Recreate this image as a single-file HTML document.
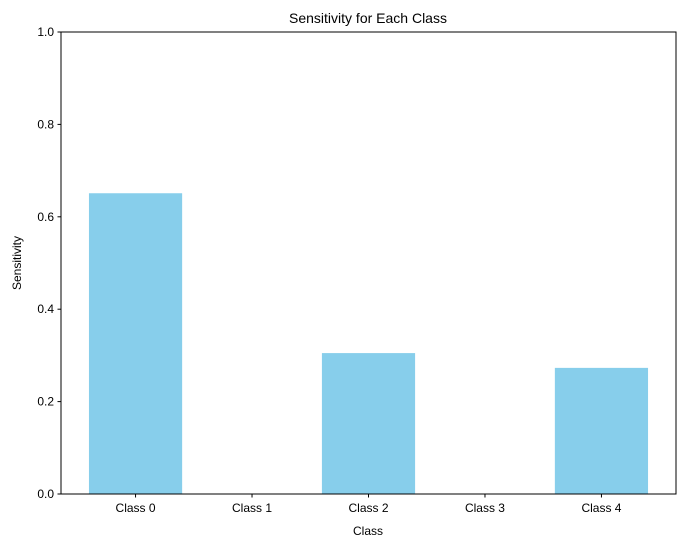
<!DOCTYPE html>
<html><head><meta charset="utf-8"><style>
body{margin:0;background:#fff;}
svg{display:block;font-family:"Liberation Sans","DejaVu Sans",sans-serif;}
</style></head><body>
<svg id="chart" width="691" height="547" xmlns="http://www.w3.org/2000/svg">
<rect width="691" height="547" fill="#fff"/>
<text x="368" y="23" text-anchor="middle" font-size="14">Sensitivity for Each Class</text>
<g id="bars"></g>
<g id="axes"></g>
<text x="368" y="535" text-anchor="middle" font-size="12">Class</text>
<text transform="translate(21,263) rotate(-90)" text-anchor="middle" font-size="12">Sensitivity</text>
</svg>
<script>
const categories=["Class 0","Class 1","Class 2","Class 3","Class 4"];
const values=[0.651,0,0.305,0,0.273];
const yTicks=[0,0.2,0.4,0.6,0.8,1.0];
const yTickLabels=["0.0","0.2","0.4","0.6","0.8","1.0"];
const NS="http://www.w3.org/2000/svg";
const L=61,R=676,T=32,B=494;
const xMin=-0.64,xMax=categories.length-1+0.64;
function xs(i){return L+(i-xMin)/(xMax-xMin)*(R-L);}
function ys(v){return B-v*(B-T);}
const bw=0.8*(R-L)/(xMax-xMin);
function mk(tag,attrs,parent){const e=document.createElementNS(NS,tag);for(const k in attrs)e.setAttribute(k,attrs[k]);parent.appendChild(e);return e;}
const bars=document.getElementById('bars'),axes=document.getElementById('axes');
values.forEach((v,i)=>{
  const r=mk('rect',{x:xs(i)-bw/2,y:ys(v),width:bw,height:ys(0)-ys(v),fill:'#87ceeb'},bars);
  
  
});
const frame=mk('rect',{x:L,y:T,width:R-L,height:B-T,fill:'none',stroke:'#000','stroke-width':1},axes);


yTicks.forEach((t,i)=>{
  const y=ys(t);
  const tk=mk('line',{x1:L-3.5,x2:L,y1:y,y2:y,stroke:'#000'},axes);
  
  
  const tx=mk('text',{x:L-7,y:y+4,'text-anchor':'end','font-size':12},axes);
  tx.textContent=yTickLabels[i];
  
  
});
categories.forEach((c,i)=>{
  const x=xs(i);
  const tk=mk('line',{x1:x,x2:x,y1:B,y2:B+3.5,stroke:'#000'},axes);
  
  
  const tx=mk('text',{x:x,y:B+18,'text-anchor':'middle','font-size':12},axes);
  tx.textContent=c;
  
  
});
</script>
</body></html>
